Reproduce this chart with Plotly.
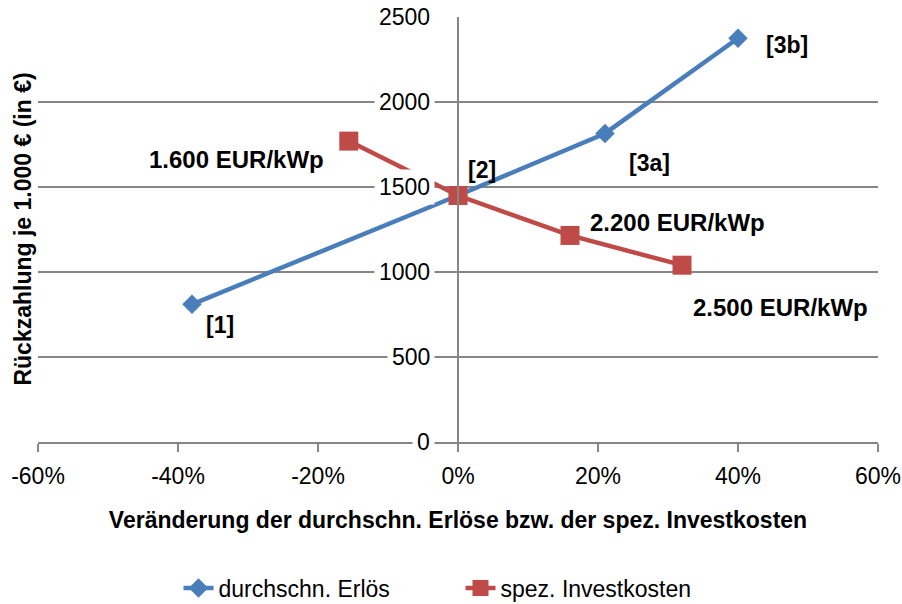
import plotly.graph_objects as go

# Data
erloes_x = [-38, 0, 21, 40]
erloes_y = [810, 1450, 1815, 2375]
invest_x = [-15.6, 0, 16, 32]
invest_y = [1770, 1450, 1215, 1040]

y_ticks = [0, 500, 1000, 1500, 2000, 2500]
x_ticks = [-60, -40, -20, 0, 20, 40, 60]
x_ticklabels = ["-60%", "-40%", "-20%", "0%", "20%", "40%", "60%"]

point_labels = ["[1]", "[2]", "[3a]", "[3b]"]
point_label_x = [-34, 3.4, 27.4, 47]
point_label_y = [690, 1600, 1640, 2335]

price_labels = ["1.600 EUR/kWp", "2.200 EUR/kWp", "2.500 EUR/kWp"]
price_label_x = [-31.7, 31.4, 46]
price_label_y = [1660, 1294, 794]

BLUE = "#4A7EBB"
RED = "#BE4B48"
GRID = "#868686"
FONT = "Liberation Sans"

fig = go.Figure()
fig.add_trace(go.Scatter(
    x=erloes_x, y=erloes_y, mode="lines+markers", name="durchschn. Erlös",
    line=dict(color=BLUE, width=4.5),
    marker=dict(symbol="diamond", size=15, color=BLUE),
))
fig.add_trace(go.Scatter(
    x=invest_x, y=invest_y, mode="lines+markers", name="spez. Investkosten",
    line=dict(color=RED, width=4.5),
    marker=dict(symbol="square", size=19, color=RED),
))

annotations = []
for v in y_ticks:
    annotations.append(dict(
        x=0, y=v, xref="x", yref="y", text=str(v), showarrow=False,
        xanchor="right", yanchor="middle", xshift=-23,
        bgcolor="white", borderpad=4,
        font=dict(family=FONT, size=23, color="black"),
    ))
for t, x, y in zip(point_labels, point_label_x, point_label_y):
    annotations.append(dict(
        x=x, y=y, xref="x", yref="y", text=f"<b>{t}</b>", showarrow=False,
        xanchor="center", yanchor="middle",
        font=dict(family=FONT, size=23, color="black"),
    ))
for t, x, y in zip(price_labels, price_label_x, price_label_y):
    annotations.append(dict(
        x=x, y=y, xref="x", yref="y", text=f"<b>{t}</b>", showarrow=False,
        xanchor="center", yanchor="middle",
        font=dict(family=FONT, size=24, color="black"),
    ))
annotations.append(dict(
    x=-0.019, y=0.5, xref="paper", yref="paper",
    text="<b>Rückzahlung je 1.000 € (in €)</b>", showarrow=False,
    textangle=-90, xanchor="center", yanchor="middle",
    font=dict(family=FONT, size=23, color="black"),
))

fig.update_layout(
    width=902, height=604,
    margin=dict(l=38, r=24, t=17, b=162, autoexpand=False),
    paper_bgcolor="white", plot_bgcolor="white",
    showlegend=True,
    legend=dict(
        orientation="h", x=0.503, xanchor="center", y=-0.3435, yanchor="middle",
        font=dict(family=FONT, size=23, color="black"),
        entrywidth=237, entrywidthmode="pixels", traceorder="normal",
    ),
    annotations=annotations,
    xaxis=dict(
        range=[-60, 60], tickmode="array", tickvals=x_ticks, ticktext=x_ticklabels,
        showgrid=False, zeroline=False, automargin=False,
        showline=True, linecolor=GRID, linewidth=2,
        ticks="outside", ticklen=8, tickcolor=GRID, tickwidth=2,
        tickfont=dict(family=FONT, size=23, color="black"),
        ticklabelstandoff=4,
        title=dict(text="<b>Veränderung der durchschn. Erlöse bzw. der spez. Investkosten</b>",
                   font=dict(family=FONT, size=23, color="black"), standoff=24),
    ),
    yaxis=dict(
        range=[0, 2500], tickvals=y_ticks, showticklabels=False,
        anchor="free", position=0.5, automargin=False,
        showgrid=True, gridcolor=GRID, gridwidth=1.5,
        zeroline=False, showline=True, linecolor=GRID, linewidth=2,
        ticks="",
    ),
)

fig.write_html("out.html", config={"displayModeBar": False},
               post_script="document.body.style.margin='0';")
